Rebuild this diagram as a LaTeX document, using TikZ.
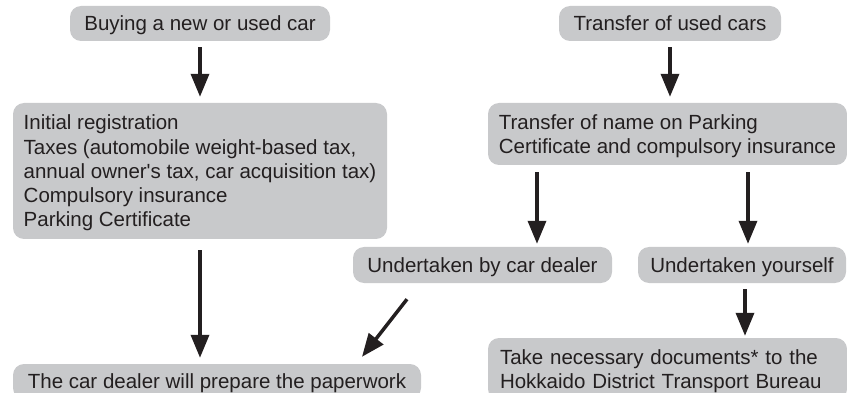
\documentclass[tikz,border=0pt]{standalone}
\usepackage{fontspec}
\setmainfont{Liberation Sans}
\usetikzlibrary{arrows.meta}
\definecolor{boxfill}{RGB}{200,201,203}
\definecolor{ink}{RGB}{35,31,32}
\begin{document}
\begin{tikzpicture}[x=1pt,y=-1pt,
  box/.style={fill=boxfill, rounded corners=11pt, text=ink, inner xsep=0pt, inner ysep=0pt,
    align=left, font=\fontsize{20.5pt}{24.3pt}\selectfont},
  oneline/.style={box, text height=14.7pt, text depth=0pt},
  arr/.style={draw=ink, line width=3.5pt, -{Triangle[width=18pt,length=23pt]}}]
\path[use as bounding box] (0,0) rectangle (847,393);
\clip (0,0) rectangle (847,393);

\node[oneline, minimum width=260pt, minimum height=35pt] (b1) at (200,23.5) {Buying a new or used car};
\node[oneline, minimum width=222pt, minimum height=35pt] (b3) at (670,23.5) {Transfer of used cars};
\node[box, minimum width=374pt, minimum height=136pt] (b2) at (200,171)
  {\rule{0pt}{19pt}Initial registration\\Taxes (automobile weight-based tax,\\annual owner\textquotesingle s tax, car acquisition tax)\\Compulsory insurance\\Parking Certificate};
\node[box, minimum width=359pt, minimum height=62pt] (b4) at (667.5,134)
  {\rule{0pt}{19pt}Transfer of name on Parking\\Certificate and compulsory insurance};
\node[oneline, minimum width=259pt, minimum height=36pt] (b5) at (482.5,265) {Undertaken by car dealer};
\node[oneline, minimum width=208pt, minimum height=36pt] (b6) at (742,265) {Undertaken yourself};
\node[oneline, minimum width=408pt, minimum height=35pt] (b7) at (217,381.5) {The car dealer will prepare the paperwork};
\node[box, inner xsep=12pt, text width=335pt, minimum height=62pt] (b8) at (667.5,369)
  {\rule{0pt}{19pt}Take necessary documents* to the\\Hokkaido District Transport Bureau};

\coordinate (p3) at ([xshift=-130.5pt]b4.south);
\coordinate (p4) at ([xshift=80.5pt]b4.south);
\coordinate (p5) at ([xshift=3pt]b6.south);
\coordinate (p7s) at ([xshift=-75.5pt,yshift=-16pt]b5.south);
\coordinate (p7e) at ([xshift=145pt,yshift=7pt]b7.north);

\draw[arr, shorten <=6pt, shorten >=6pt] (b1.south) -- (b1.south |- b2.north);
\draw[arr, shorten <=6pt, shorten >=6pt] (b3.south) -- (b3.south |- b4.north);
\draw[arr, shorten <=7pt, shorten >=3pt] (p3) -- (p3 |- b5.north);
\draw[arr, shorten <=7pt, shorten >=3pt] (p4) -- (p4 |- b6.north);
\draw[arr, shorten <=6pt, shorten >=2pt] (p5) -- (p5 |- b8.north);
\draw[arr, shorten <=11pt, shorten >=6pt] (b2.south) -- (b2.south |- b7.north);
\draw[arr] (p7s) -- (p7e);
\end{tikzpicture}
\end{document}
